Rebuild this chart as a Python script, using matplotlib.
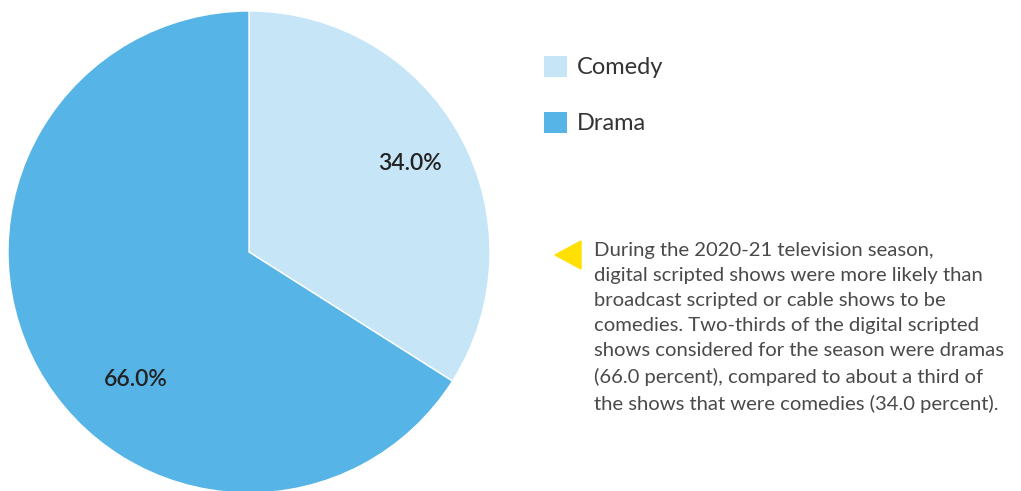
import numpy as np
import matplotlib
matplotlib.use("Agg")
import matplotlib.pyplot as plt
from matplotlib.patches import Polygon

# data
categories = ["Comedy", "Drama"]
shares = [34.0, 66.0]
colors = ["#C6E5F6", "#57B4E6"]
note = ("During the 2020-21 television season,\n"
        "digital scripted shows were more likely than\n"
        "broadcast scripted or cable shows to be\n"
        "comedies. Two-thirds of the digital scripted\n"
        "shows considered for the season were dramas\n"
        "(66.0 percent), compared to about a third of\n"
        "the shows that were comedies (34.0 percent).")

plt.rcParams['font.family'] = ['Lato', 'DejaVu Sans']

W, H = 1021, 491
fig = plt.figure(figsize=(W / 100, H / 100), dpi=100)

# pie axes: centre (249,252), radius 241 px
cx, cy, r = 249, 252, 241
ax = fig.add_axes([(cx - r) / W, (H - cy - r) / H, 2 * r / W, 2 * r / H])
wedges, _, autotexts = ax.pie(shares, colors=colors, startangle=90, counterclock=False,
                              autopct='%.1f%%', pctdistance=0.76, radius=1,
                              wedgeprops=dict(edgecolor='white', linewidth=1),
                              textprops=dict(fontsize=16.5, color='#222222', fontweight='semibold'))
ax.set_xlim(-1, 1)
ax.set_ylim(-1, 1)
ax.set_aspect('equal')
ax.axis('off')
# drama label sits lower-left in the original
autotexts[1].set_position((-113 / r, -127 / r))

# legend
fig.legend(wedges, categories, loc='upper left', bbox_to_anchor=(544 / W, 1 - 56 / H),
           frameon=False, fontsize=17, handlelength=0.97, handleheight=0.97,
           handletextpad=0.42, labelspacing=1.42, labelcolor='#333333',
           borderpad=0, borderaxespad=0)
for h in fig.legends[0].legend_handles:
    h.set_edgecolor('none')

# yellow pointer + note
tri = Polygon([[555 / W, 1 - 255 / H], [581 / W, 1 - 241 / H], [581 / W, 1 - 269 / H]],
              closed=True, transform=fig.transFigure, color='#FFE000')
fig.patches.append(tri)
fig.text(594 / W, 1 - 242 / H, note, ha='left', va='top', fontsize=14.6,
         color='#4A4A4A', linespacing=1.58)

fig.savefig("out.png", dpi=100)
